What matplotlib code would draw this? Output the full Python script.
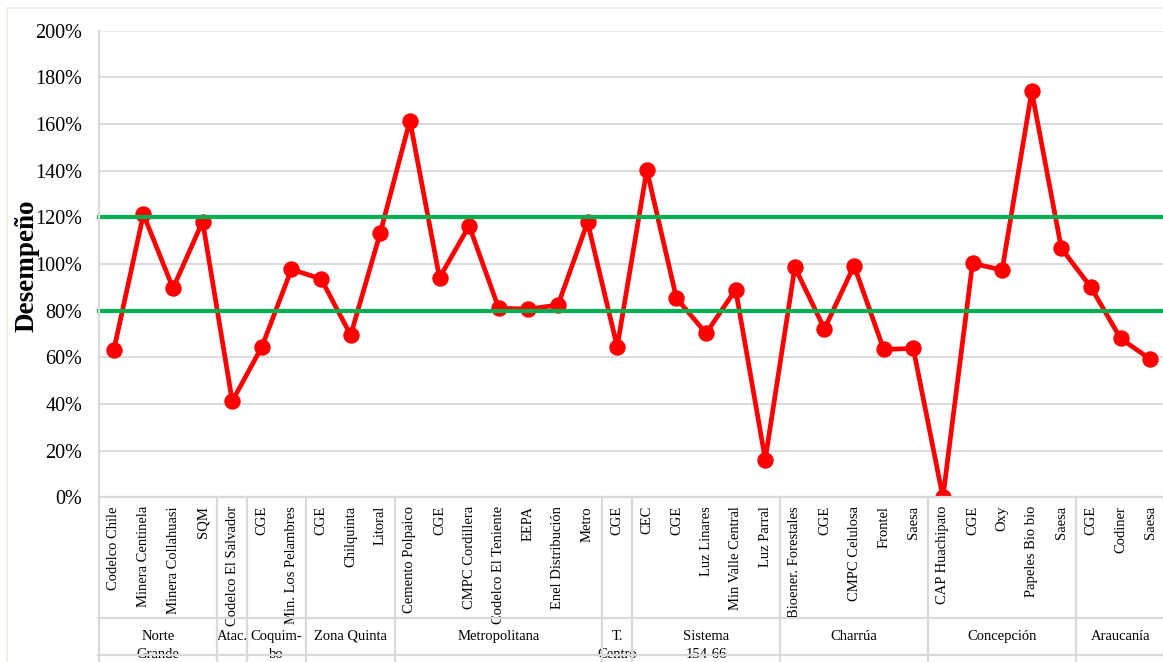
import matplotlib
matplotlib.use("Agg")
import matplotlib.pyplot as plt
import matplotlib.transforms as mtransforms
from matplotlib.patches import Rectangle
from matplotlib.ticker import FuncFormatter, MultipleLocator

# Companies (x categories), grouped by zone
companies = [
    "Codelco Chile", "Minera Centinela", "Minera Collahuasi", "SQM",
    "Codelco El Salvador",
    "CGE", "Min. Los Pelambres",
    "CGE", "Chilquinta", "Litoral",
    "Cemento Polpaico", "CGE", "CMPC Cordillera", "Codelco El Teniente",
    "EEPA", "Enel Distribución", "Metro",
    "CGE",
    "CEC", "CGE", "Luz Linares", "Min Valle Central", "Luz Parral",
    "Bioener. Forestales", "CGE", "CMPC Celulosa", "Frontel", "Saesa",
    "CAP Huachipato", "CGE", "Oxy", "Papeles Bio bio", "Saesa",
    "CGE", "Codiner", "Saesa",
]

# Performance (%) per company
desempeno = [
    63.1, 121.3, 89.6, 118.2,
    41.2,
    64.5, 97.7,
    93.6, 69.5, 113.4,
    161.5, 94.1, 116.4, 81.0, 80.7, 82.4, 117.9,
    64.5,
    140.3, 85.4, 70.3, 89.0, 16.2,
    98.6, 72.2, 99.3, 63.4, 63.8,
    0.0, 100.3, 97.4, 174.0, 106.7,
    90.0, 68.1, 59.2,
]

# Zone names and number of companies in each
zonas = ["Norte\nGrande", "Atac.", "Coquim-\nbo", "Zona Quinta", "Metropolitana",
         "T.\nCentro", "Sistema\n154-66", "Charrúa", "Concepción", "Araucanía"]
zona_sizes = [4, 1, 2, 3, 7, 1, 5, 5, 5, 3]

# Control band limits (%)
limite_inferior = 80
limite_superior = 120

SERIF = "Liberation Serif"
GRID = "#D9D9D9"

fig = plt.figure(figsize=(11.63, 6.62), dpi=100)
W, H = 1163, 662
ax = fig.add_axes([99 / W, 1 - 497.3 / H, (1165 - 99) / W, (497.3 - 30.7) / H])

x = list(range(len(companies)))
ax.plot(x, desempeno, color="#FF0000", lw=3.4, marker="o", ms=10.8,
        solid_joinstyle="round", zorder=4)
ax.axhline(limite_superior, color="#00B050", lw=3.0, zorder=5, clip_on=False)
ax.axhline(limite_inferior, color="#00B050", lw=3.0, zorder=5, clip_on=False)

ax.set_xlim(-0.5, len(companies) - 0.5)
ax.set_ylim(0, 200)
ax.yaxis.set_major_locator(MultipleLocator(20))
ax.yaxis.set_major_formatter(FuncFormatter(lambda v, _: f"{v:.0f}%"))
ax.tick_params(axis="y", length=0, pad=12, labelsize=14.5)
ax.tick_params(axis="x", length=0, labelbottom=False)
for lab in ax.get_yticklabels():
    lab.set_fontfamily(SERIF)

for yv in range(20, 200, 20):
    ax.axhline(yv, color=GRID, lw=1.3, zorder=1)
ax.axhline(200, color="#EBEBEB", lw=1.3, zorder=1)

for s in ["top", "right", "bottom", "left"]:
    ax.spines[s].set_visible(False)

# Category table below the plot
trans = mtransforms.blended_transform_factory(ax.transData, ax.transAxes)
px = 1.0 / (497.3 - 30.7)  # one pixel in axes fraction (vertical)
y_row = -(618 - 497.3) * px
y_row2 = -(655 - 497.3) * px
y_bottom = -(662 - 497.3) * px

ax.plot([-0.5, len(companies) - 0.5], [0, 0], transform=trans, color=GRID,
        lw=1.6, clip_on=False, zorder=6)
ax.plot([-0.55, len(companies) - 0.5], [y_row, y_row], transform=trans,
        color=GRID, lw=1.6, clip_on=False, zorder=6)
ax.plot([-0.55, len(companies) - 0.5], [y_row2, y_row2], transform=trans,
        color=GRID, lw=1.6, clip_on=False, zorder=6)
ax.plot([-0.5, -0.5], [1.0, y_bottom], transform=trans, color=GRID,
        lw=1.6, clip_on=False, zorder=6)

for i, name in enumerate(companies):
    ax.text(i, -(506 - 497.3) * px, name, transform=trans, rotation=90,
            ha="center", va="top", fontsize=10.5, family=SERIF, clip_on=False)

start = 0
for zona, n in zip(zonas, zona_sizes):
    end = start + n
    ax.plot([end - 0.5, end - 0.5], [0, y_bottom], transform=trans,
            color=GRID, lw=1.6, clip_on=False, zorder=6)
    ax.text((start + end - 1) / 2, -(630 - 497.3) * px, zona, transform=trans,
            ha="center", va="top", fontsize=10.5, family=SERIF,
            linespacing=1.5, clip_on=False, zorder=5)
    start = end

fig.text(27 / W, 1 - 266 / H, "Desempeño", rotation=90, ha="center",
         va="center", fontsize=19.5, fontweight="bold", family=SERIF)

# Chart frame
fig.add_artist(Rectangle((7 / W, -0.1), 1.2, 1 - 8 / H + 0.1,
                         transform=fig.transFigure, fill=False,
                         edgecolor="#EEEBDD", lw=1.2))

fig.savefig("out.png", dpi=100)
